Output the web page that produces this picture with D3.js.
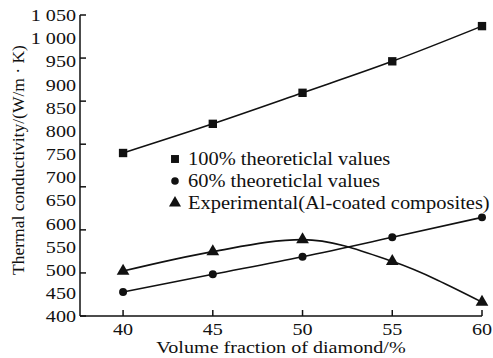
<!DOCTYPE html>
<html>
<head>
<meta charset="utf-8">
<script src="https://cdn.jsdelivr.net/npm/d3@7"></script>
<style>
  body { margin: 0; background: #fff; }
  svg text { font-family: "Liberation Serif", "DejaVu Serif", serif; fill: #111; }
</style>
</head>
<body>
<svg id="chart" width="493" height="358"></svg>
<script>
// Data
const fractions = [40, 45, 50, 55, 60];
const theory100 = [752, 815, 882, 950, 1026];
const theory60 = [452, 490, 528, 570, 613];
const experimental = [497, 539, 565, 518, 430];

const yLabelValues = [400, 450, 500, 550, 600, 650, 700, 750, 800, 850, 900, 950, 1000, 1050];
const yLabelText = ["400", "450", "500", "550", "600", "650", "700", "750", "800", "850", "900", "950", "1 000", "1 050"];
const yTickMarks = [400, 493, 586, 679, 771, 864, 957, 1050];
const xTicks = [40, 45, 50, 55, 60];

const legendItems = ["100% theoreticlal values", "60% theoreticlal values", "Experimental(Al-coated composites)"];

const svg = d3.select("#chart");
const FS = 17.5;      // font size
const STRETCH = 1.15; // the printed type is a little wide

// text helper: horizontally stretched text anchored at x,y
function addText(parent, x, y, str, anchor, size) {
    return parent.append("g")
        .attr("transform", `translate(${x},${y}) scale(${STRETCH},1)`)
        .append("text")
        .attr("text-anchor", anchor || "start")
        .attr("font-size", size || FS)
        .text(str);
}

// Scales
const xScale = d3.scaleLinear().domain([37.6, 60]).range([80, 482]);
const yScale = d3.scaleLinear().domain([400, 1050]).range([316, 15]);

// Axes lines
svg.append("line")
    .attr("x1", 80).attr("x2", 80)
    .attr("y1", yScale(1050)).attr("y2", yScale(400))
    .attr("stroke", "#111").attr("stroke-width", 1.5);
svg.append("line")
    .attr("x1", 80).attr("x2", xScale(60))
    .attr("y1", yScale(400)).attr("y2", yScale(400))
    .attr("stroke", "#111").attr("stroke-width", 1.5);

// Y tick marks (inward)
svg.selectAll(".ytick")
    .data(yTickMarks)
    .enter()
    .append("line")
    .attr("x1", 80).attr("x2", 86)
    .attr("y1", d => yScale(d)).attr("y2", d => yScale(d))
    .attr("stroke", "#111").attr("stroke-width", 1.5);

// Y labels
yLabelValues.forEach((v, i) => {
    addText(svg, 76, yScale(v), yLabelText[i], "end").attr("dy", "0.35em");
});

// X ticks
svg.selectAll(".xtick")
    .data(xTicks)
    .enter()
    .append("line")
    .attr("x1", d => xScale(d)).attr("x2", d => xScale(d))
    .attr("y1", yScale(400)).attr("y2", yScale(400) - 6)
    .attr("stroke", "#111").attr("stroke-width", 1.5);

xTicks.forEach(v => addText(svg, xScale(v), 335, v, "middle"));

// Axis titles
addText(svg, 281, 353, "Volume fraction of diamond/%", "middle");

svg.append("text")
    .attr("transform", "translate(24,160) rotate(-90)")
    .attr("text-anchor", "middle")
    .attr("font-size", 17.5)
    .text("Thermal conductivity/(W/m \u00b7 K)");

// Lines
const line = d3.line()
    .x(d => xScale(d[0]))
    .y(d => yScale(d[1]))
    .curve(d3.curveMonotoneX);

const series = [theory100, theory60, experimental];
const symbols = [d3.symbolSquare, d3.symbolCircle, d3.symbolTriangle];
const symbolSizes = [70, 50, 70];

series.forEach((vals, si) => {
    const pts = fractions.map((f, i) => [f, vals[i]]);
    svg.append("path")
        .attr("d", line(pts))
        .attr("fill", "none")
        .attr("stroke", "#111")
        .attr("stroke-width", 1.6);
    svg.selectAll(".m" + si)
        .data(pts)
        .enter()
        .append("path")
        .attr("transform", d => `translate(${xScale(d[0])},${yScale(d[1])})`)
        .attr("d", d3.symbol().type(symbols[si]).size(symbolSizes[si]))
        .attr("fill", "#111");
});

// Legend
const legend = svg.append("g").attr("transform", "translate(175,159)");
legendItems.forEach((t, i) => {
    legend.append("path")
        .attr("transform", `translate(0,${i * 22})`)
        .attr("d", d3.symbol().type(symbols[i]).size(symbolSizes[i] * 0.9))
        .attr("fill", "#111");
    addText(legend, 13, i * 22, t, "start", 17.8).attr("dy", "0.35em");
});
</script>
</body>
</html>
